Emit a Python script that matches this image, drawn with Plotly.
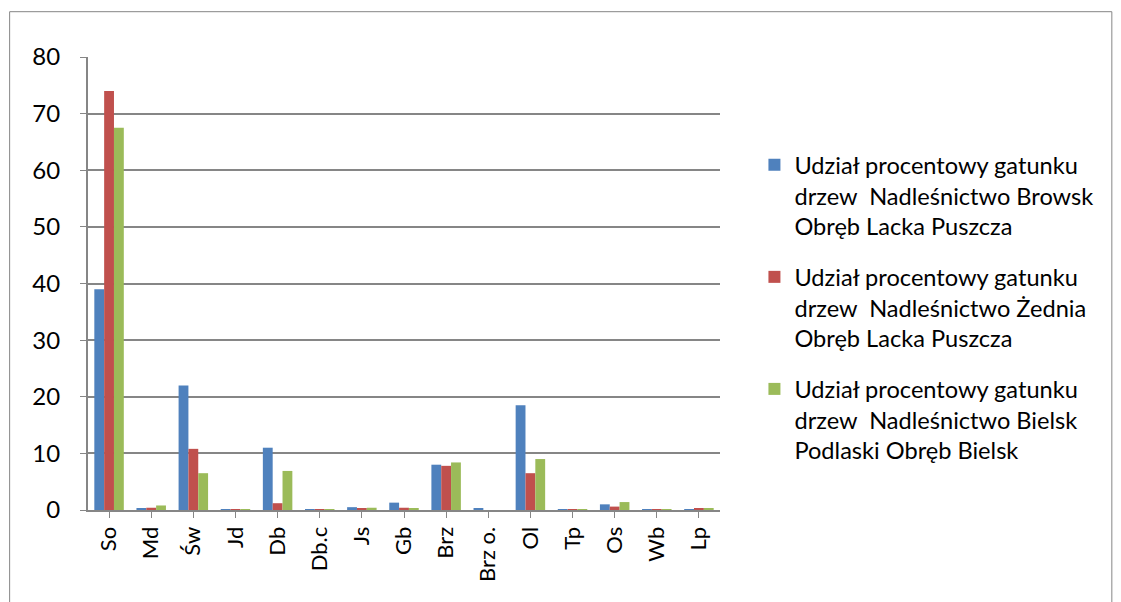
import plotly.graph_objects as go

categories = ["So", "Md", "Św", "Jd", "Db", "Db.c", "Js", "Gb", "Brz", "Brz o.", "Ol", "Tp", "Os", "Wb", "Lp"]
browsk = [39.0, 0.2, 22.0, 0.1, 11.0, 0.1, 0.5, 1.3, 8.0, 0.3, 18.5, 0.1, 1.0, 0.1, 0.1]
zednia = [74.0, 0.4, 10.8, 0.1, 1.2, 0.1, 0.2, 0.4, 7.8, 0.0, 6.5, 0.1, 0.6, 0.1, 0.2]
bielsk = [67.5, 0.8, 6.5, 0.1, 6.9, 0.1, 0.4, 0.2, 8.4, 0.0, 9.0, 0.1, 1.4, 0.1, 0.3]
series_names = [
    "Udział procentowy gatunku<br>drzew  Nadleśnictwo Browsk<br>Obręb Lacka Puszcza",
    "Udział procentowy gatunku<br>drzew  Nadleśnictwo Żednia<br>Obręb Lacka Puszcza",
    "Udział procentowy gatunku<br>drzew  Nadleśnictwo Bielsk<br>Podlaski Obręb Bielsk",
]
colors = ["#4F81BD", "#C0504D", "#9BBB59"]
y_ticks = [0, 10, 20, 30, 40, 50, 60, 70, 80]

fig = go.Figure()
for i, (name, vals, col) in enumerate(zip(series_names, [browsk, zednia, bielsk], colors)):
    fig.add_trace(go.Bar(x=categories, y=vals, name=name, marker_color=col,
                         marker_line_width=0, legendgroup=f"g{i}"))

FONT = "Lato, Open Sans, sans-serif"
fig.update_layout(
    width=1121, height=602,
    margin=dict(l=88, r=401, t=57, b=92, autoexpand=False),
    paper_bgcolor="white", plot_bgcolor="white",
    barmode="group", bargap=0.3, bargroupgap=0.0,
    font=dict(family=FONT, size=22, color="#000000"),
    showlegend=True,
    legend=dict(xref="container", yref="container", x=0.673, y=0.7625,
                xanchor="left", yanchor="top", valign="top", maxheight=520,
                font=dict(family=FONT, size=23.6), tracegroupgap=17,
                itemwidth=30, bgcolor="rgba(0,0,0,0)"),
    xaxis=dict(tickangle=-90, showgrid=False, showline=True, linecolor="#868686",
               linewidth=2, ticks="outside", ticklen=6, tickcolor="#868686",
               tickfont=dict(size=22)),
    yaxis=dict(range=[0, 80], tickvals=y_ticks, showgrid=True, gridcolor="#868686",
               gridwidth=2, showline=True, linecolor="#868686", linewidth=2,
               ticks="outside", ticklen=6, tickcolor="#868686", zeroline=False,
               ticklabelstandoff=15, tickfont=dict(size=24)),
    shapes=[dict(type="rect", xref="paper", yref="paper",
                 x0=-0.124, x1=1.62, y0=-0.3, y1=1.1,
                 line=dict(color="#868686", width=1), fillcolor="rgba(0,0,0,0)",
                 layer="below")],
)
fig.write_html("out.html")
